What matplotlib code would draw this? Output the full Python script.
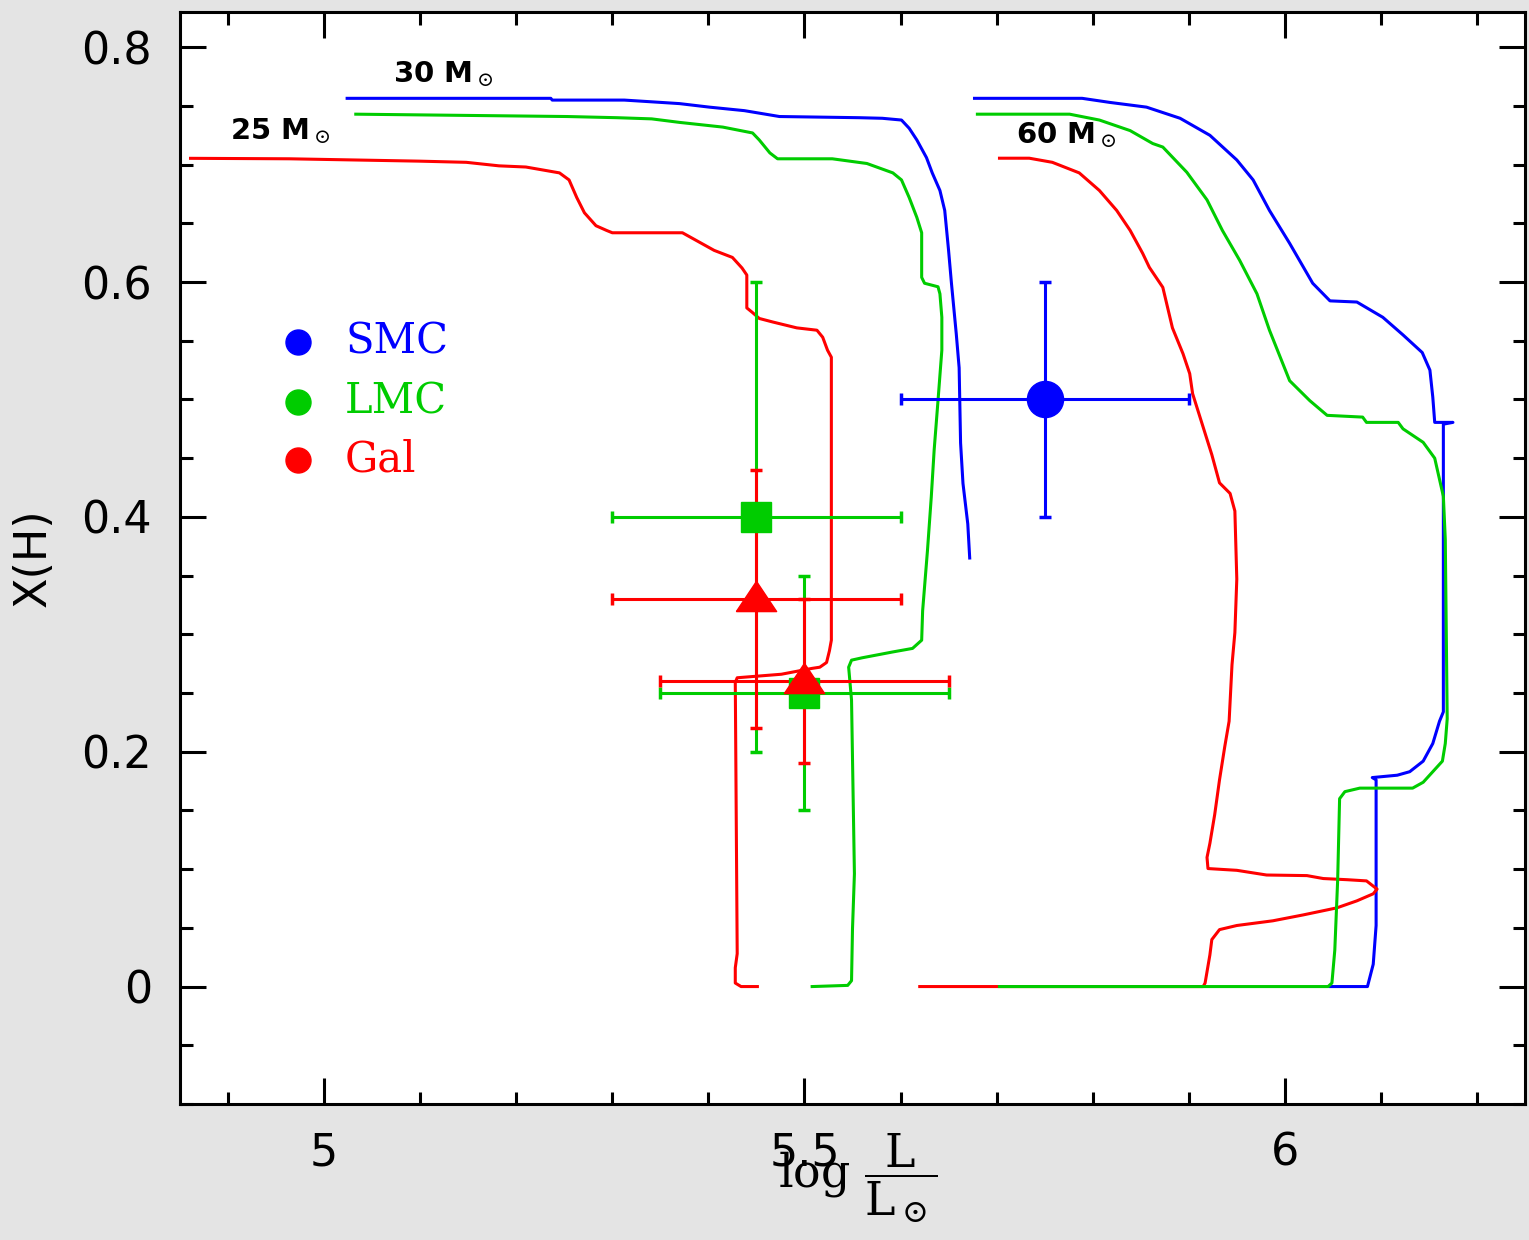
import matplotlib
matplotlib.use('Agg')
import matplotlib.pyplot as plt
from matplotlib.ticker import MultipleLocator

# evolutionary tracks: log L/Lsun vs central hydrogen X(H)
smc30_logl = [5.024, 5.236, 5.2375, 5.3125, 5.351, 5.370, 5.401, 5.4375, 5.474, 5.557, 5.581, 5.601,
              5.609, 5.617, 5.627, 5.633, 5.641, 5.646, 5.650, 5.653, 5.658, 5.661, 5.6625, 5.665,
              5.670, 5.672]
smc30_xh = [0.7565, 0.7565, 0.755, 0.755, 0.753, 0.752, 0.749, 0.746, 0.741, 0.740, 0.7395, 0.738,
            0.731, 0.721, 0.706, 0.693, 0.678, 0.661, 0.627, 0.599, 0.556, 0.527, 0.463, 0.4285,
            0.394, 0.365]

lmc30_logl = [5.033, 5.253, 5.305, 5.341, 5.370, 5.415, 5.446, 5.453, 5.464, 5.472, 5.529, 5.565,
              5.592, 5.601, 5.609, 5.617, 5.622, 5.622, 5.625, 5.639, 5.641, 5.643, 5.643, 5.639,
              5.635, 5.632, 5.628, 5.623, 5.622, 5.6125, 5.592, 5.560, 5.549, 5.546, 5.549, 5.552,
              5.550, 5.549, 5.545, 5.508]
lmc30_xh = [0.743, 0.741, 0.740, 0.739, 0.736, 0.732, 0.727, 0.721, 0.710, 0.705, 0.705, 0.701,
            0.693, 0.687, 0.672, 0.655, 0.642, 0.604, 0.599, 0.596, 0.590, 0.570, 0.542, 0.499,
            0.457, 0.417, 0.371, 0.320, 0.295, 0.288, 0.285, 0.280, 0.278, 0.272, 0.244, 0.096,
            0.049, 0.005, 0.001, 0.0]

gal25_logl = [4.861, 4.964, 5.099, 5.148, 5.182, 5.210, 5.231, 5.245, 5.255, 5.263, 5.271, 5.283,
              5.294, 5.300, 5.373, 5.406, 5.425, 5.435, 5.440, 5.440, 5.446, 5.453, 5.467, 5.492,
              5.513, 5.519, 5.524, 5.528, 5.528, 5.526, 5.523, 5.516, 5.508, 5.476, 5.430, 5.428,
              5.430, 5.428, 5.428, 5.434, 5.451]
gal25_xh = [0.7054, 0.705, 0.703, 0.702, 0.699, 0.698, 0.695, 0.693, 0.687, 0.672, 0.659, 0.648,
            0.644, 0.642, 0.642, 0.627, 0.621, 0.612, 0.606, 0.578, 0.574, 0.569, 0.566, 0.561,
            0.559, 0.553, 0.542, 0.536, 0.295, 0.286, 0.276, 0.272, 0.271, 0.266, 0.263, 0.259,
            0.028, 0.016, 0.003, 0.0, 0.0]

smc60_logl = [5.677, 5.789, 5.818, 5.856, 5.891, 5.922, 5.950, 5.967, 5.984, 6.005, 6.029, 6.047,
              6.075, 6.102, 6.123, 6.143, 6.151, 6.154, 6.156, 6.175, 6.165, 6.165, 6.161, 6.154,
              6.144, 6.130, 6.117, 6.091, 6.095, 6.095, 6.092, 6.086, 6.047]
smc60_xh = [0.7565, 0.7565, 0.753, 0.749, 0.7395, 0.725, 0.704, 0.687, 0.661, 0.633, 0.599, 0.584,
            0.583, 0.570, 0.555, 0.540, 0.525, 0.502, 0.4805, 0.4805, 0.479, 0.234, 0.226, 0.207,
            0.192, 0.183, 0.180, 0.178, 0.176, 0.052, 0.019, 0.0, 0.0]

lmc60_logl = [5.680, 5.776, 5.807, 5.839, 5.8625, 5.873, 5.898, 5.919, 5.935, 5.953, 5.971, 5.984,
              6.005, 6.026, 6.044, 6.081, 6.085, 6.118, 6.123, 6.144, 6.156, 6.165, 6.167, 6.169,
              6.167, 6.164, 6.144, 6.133, 6.078, 6.0625, 6.057, 6.055, 6.052, 6.049, 6.045, 5.703]
lmc60_xh = [0.743, 0.743, 0.738, 0.729, 0.718, 0.715, 0.6935, 0.670, 0.644, 0.6185, 0.590, 0.559,
            0.516, 0.499, 0.4865, 0.485, 0.4805, 0.4805, 0.475, 0.4635, 0.450, 0.4175, 0.381, 0.228,
            0.207, 0.192, 0.174, 0.169, 0.169, 0.166, 0.160, 0.091, 0.031, 0.003, 0.0, 0.0]

gal60_logl = [5.703, 5.734, 5.758, 5.786, 5.807, 5.825, 5.839, 5.852, 5.859, 5.873, 5.883, 5.894,
              5.901, 5.904, 5.924, 5.932, 5.943, 5.948, 5.950, 5.948, 5.945, 5.942, 5.9375, 5.932,
              5.927, 5.922, 5.919, 5.920, 5.950, 5.981, 6.023, 6.040, 6.065, 6.085, 6.096, 6.092,
              6.075, 6.054, 6.019, 5.9875, 5.950, 5.932, 5.924, 5.922, 5.917, 5.915, 5.620]
gal60_xh = [0.7055, 0.7055, 0.702, 0.693, 0.678, 0.661, 0.644, 0.6245, 0.6125, 0.5955, 0.561, 0.539,
            0.522, 0.505, 0.453, 0.429, 0.420, 0.405, 0.347, 0.3015, 0.274, 0.226, 0.2045, 0.176,
            0.1465, 0.122, 0.110, 0.1005, 0.099, 0.095, 0.0945, 0.092, 0.091, 0.090, 0.083, 0.079,
            0.073, 0.067, 0.061, 0.056, 0.052, 0.0485, 0.040, 0.027, 0.003, 0.0, 0.0]

# observed stars
smc_logl, smc_xh, smc_dl, smc_dx = [5.75], [0.50], [0.15], [0.10]
lmc_logl, lmc_xh, lmc_dl, lmc_dx = [5.45, 5.50], [0.40, 0.25], [0.15, 0.15], [0.20, 0.10]
gal_logl, gal_xh, gal_dl, gal_dx = [5.45, 5.50], [0.33, 0.26], [0.15, 0.15], [0.11, 0.07]

BLUE = '#0000ff'
GREEN = '#00cc00'
RED = '#ff0000'

plt.rcParams['mathtext.fontset'] = 'dejavuserif'

fig = plt.figure(figsize=(15.29, 12.4), dpi=100, facecolor='#e4e4e4')
ax = fig.add_axes([0.1177, 0.1097, 0.8797, 0.8806])
ax.set_facecolor('white')

lw = 2.2
ax.plot(smc30_logl, smc30_xh, color=BLUE, lw=lw)
ax.plot(smc60_logl, smc60_xh, color=BLUE, lw=lw)
ax.plot(gal25_logl, gal25_xh, color=RED, lw=lw)
ax.plot(gal60_logl, gal60_xh, color=RED, lw=lw)
ax.plot(lmc30_logl, lmc30_xh, color=GREEN, lw=lw)
ax.plot(lmc60_logl, lmc60_xh, color=GREEN, lw=lw)

eb = dict(ls='none', elinewidth=2.2, capsize=4, capthick=2.5)
ax.errorbar(smc_logl, smc_xh, xerr=smc_dl, yerr=smc_dx, color=BLUE, marker='o', ms=26, **eb)
ax.errorbar(lmc_logl, lmc_xh, xerr=lmc_dl, yerr=lmc_dx, color=GREEN, marker='s', ms=21, **eb)
tri = [(-1.0, -0.6), (1.0, -0.6), (0.0, 0.9), (-1.0, -0.6)]
ax.errorbar(gal_logl, gal_xh, xerr=gal_dl, yerr=gal_dx, color=RED, marker=tri, ms=29, **eb)

# legend
for yy, name, col in [(0.698, 'SMC', BLUE), (0.643, 'LMC', GREEN), (0.590, 'Gal', RED)]:
    ax.plot([0.0877], [yy], 'o', color=col, ms=18, transform=ax.transAxes)
    ax.text(0.1227, yy, name, color=col, fontsize=30, family='DejaVu Serif',
            va='center', ha='left', transform=ax.transAxes)

# mass labels
mfont = dict(fontsize=21, fontweight='bold', va='center', ha='left', transform=ax.transAxes)
ax.text(0.1584, 0.943, r'30 M$_\odot$', **mfont)
ax.text(0.0372, 0.891, r'25 M$_\odot$', **mfont)
ax.text(0.6216, 0.887, r'60 M$_\odot$', **mfont)

ax.set_xlim(4.85, 6.25)
ax.set_ylim(-0.1, 0.83)
ax.xaxis.set_minor_locator(MultipleLocator(0.1))
ax.yaxis.set_minor_locator(MultipleLocator(0.05))
ax.set_xticks([5, 5.5, 6])
ax.set_xticklabels(['5', '5.5', '6'])
ax.set_yticks([0, 0.2, 0.4, 0.6, 0.8])
ax.set_yticklabels(['0', '0.2', '0.4', '0.6', '0.8'])
ax.tick_params(which='both', direction='in', top=True, right=True, width=2.2, labelsize=32)
ax.tick_params(which='major', length=19, pad=20)
ax.tick_params(which='minor', length=9)
for s in ax.spines.values():
    s.set_linewidth(2.2)

ax.set_ylabel('X(H)', fontsize=32)
ax.yaxis.set_label_coords(-0.093, 0.5)
fig.text(0.561, 0.05, r'$\mathrm{log}\ \dfrac{\mathrm{L}}{\mathrm{L}_\odot}$',
         fontsize=33, ha='center', va='center')

fig.savefig('out.png', dpi=100, facecolor=fig.get_facecolor())
